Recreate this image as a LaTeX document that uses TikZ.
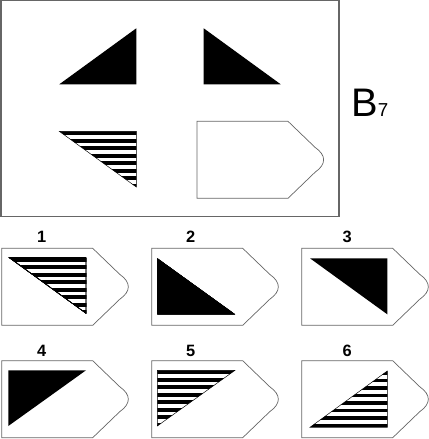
\documentclass[tikz,border=0pt]{standalone}
\usepackage{fontspec}
\setmainfont{Liberation Sans}
\usetikzlibrary{positioning}
\tikzset{
  frame/.style={draw=black!60, line width=1pt},
  card/.style={draw=black!60, line width=0.6pt},
  solidtri/.style={fill=black},
  hatchedge/.style={draw=black, line width=0.4pt},
  numlabel/.style={font=\bfseries\fontsize{14}{14}\selectfont, inner sep=0pt, anchor=base}
}
% outline of one answer card, top left corner at (#1,#2)
\newcommand{\cardat}[2]{%
  \draw[card, shift={(#1,#2)}] (0,0) -- (91,0) -- (118,26)
    .. controls (129.5,34) and (129.5,43) .. (118,51) -- (91,77) -- (0,77) -- cycle;}
% triangle filled with horizontal bars, #4 = top of the triangle
\newcommand{\hatchtri}[4]{%
  \begin{scope}
    \clip #1 -- #2 -- #3 -- cycle;
    \foreach \k in {0,...,7}
      \fill (0,#4+\k*7.5) rectangle (429,#4+\k*7.5+3.8);
  \end{scope}
  \draw[hatchedge] #1 -- #2 -- #3 -- cycle;}

\begin{document}
\begin{tikzpicture}[x=0.03cm, y=-0.03cm]
  \useasboundingbox (0,0) rectangle (429,439);
  % the matrix
  \draw[frame] (1,0.8) rectangle (339,216.2);
  \fill[solidtri] (59.3,84.3) -- (136.3,84.3) -- (136.3,28.3) -- cycle;
  \fill[solidtri] (203.7,28.3) -- (203.7,84.3) -- (280.7,84.3) -- cycle;
  \hatchtri{(59.3,131.3)}{(136.3,131.3)}{(136.3,187)}{131.3}
  \cardat{197}{121.3}
  \node[inner sep=0pt, anchor=base west] (title) at (351,116)
    {\fontsize{34}{34}\selectfont B\fontsize{16}{16}\selectfont 7};
  % answers
  \foreach \x in {1.7,151.7,301.7}
    \foreach \y in {248.3,360.7}
      \cardat{\x}{\y}
  \hatchtri{(9.3,257.7)}{(86,257.7)}{(86,313.3)}{257.7}
  \fill[solidtri] (157.3,258.3) -- (157.3,314.3) -- (235,314.3) -- cycle;
  \fill[solidtri] (310,258.3) -- (387.3,258.3) -- (387.3,314.3) -- cycle;
  \fill[solidtri] (8.3,370.3) -- (86,370.3) -- (8.3,426) -- cycle;
  \hatchtri{(157.3,370.3)}{(235,370.3)}{(157.3,426)}{370.3}
  \hatchtri{(387.3,371)}{(387.3,427.3)}{(310,427.3)}{371}
  \node[numlabel] (lab1) at (41.7,242) {1};
  \node[numlabel] (lab2) at (190.7,242) {2};
  \node[numlabel] (lab3) at (347.3,242) {3};
  \node[numlabel] (lab4) at (41.7,356.7) {4};
  \node[numlabel] (lab5) at (190.7,356.7) {5};
  \node[numlabel] (lab6) at (347.3,356.7) {6};
\end{tikzpicture}
\end{document}
